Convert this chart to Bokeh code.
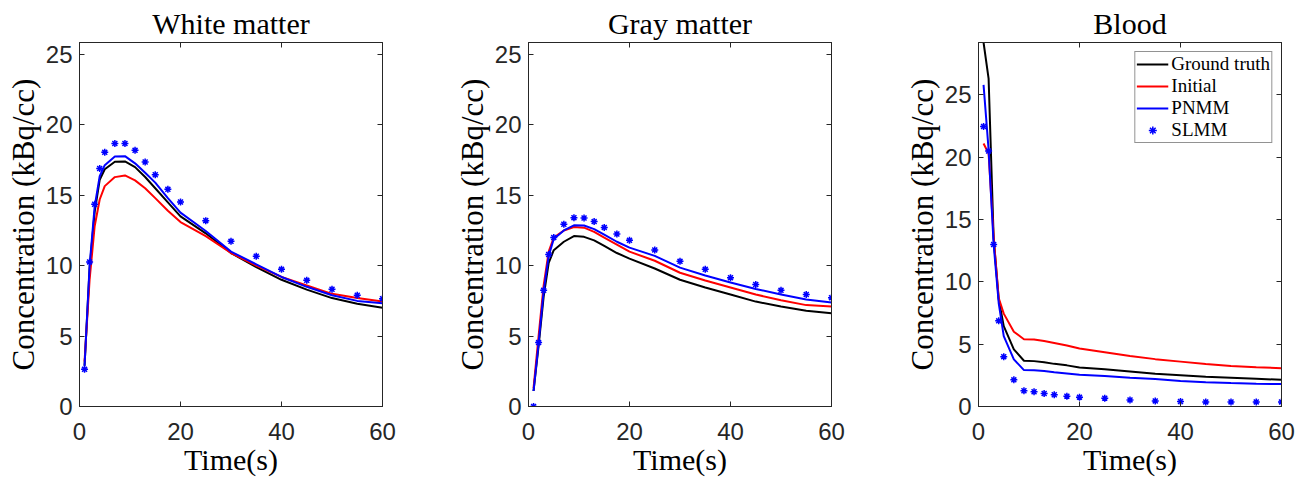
from bokeh.plotting import figure
from bokeh.layouts import row
from bokeh.models import LinearAxis, FixedTicker, Range1d, Legend, LegendItem
from bokeh.embed import file_html
from bokeh.resources import INLINE

# ---------------- data ----------------
time_s = [1, 2, 3, 4, 5, 7, 9, 11, 13, 15, 17.5, 20, 25, 30, 35, 40, 45, 50, 55, 60]

wm_truth   = [2.9, 9.8, 13.8, 16.1, 16.85, 17.38, 17.4, 17.0, 16.3, 15.5, 14.5, 13.5, 12.3, 10.9, 9.9, 9.0, 8.3, 7.7, 7.3, 7.02]
wm_initial = [3.2, 9.0, 12.8, 14.7, 15.65, 16.29, 16.41, 16.06, 15.5, 14.8, 13.9, 13.1, 12.1, 10.9, 10.0, 9.2, 8.6, 8.0, 7.7, 7.45]
wm_pnmm    = [2.86, 10.0, 14.2, 16.35, 17.14, 17.75, 17.78, 17.27, 16.6, 15.9, 14.8, 13.77, 12.46, 11.0, 10.1, 9.2, 8.5, 7.9, 7.5, 7.33]
wm_slmm    = [2.64, 10.27, 14.36, 16.9, 18.05, 18.68, 18.68, 18.19, 17.36, 16.46, 15.42, 14.52, 13.2, 11.73, 10.67, 9.74, 8.96, 8.33, 7.9, 7.66]

gm_truth   = [1.1, 4.3, 7.8, 10.2, 11.1, 11.7, 12.1, 12.05, 11.8, 11.4, 10.9, 10.5, 9.8, 9.0, 8.45, 7.95, 7.45, 7.1, 6.8, 6.62]
gm_initial = [1.3, 5.0, 8.6, 11.0, 12.0, 12.5, 12.75, 12.7, 12.4, 12.0, 11.5, 11.0, 10.35, 9.5, 8.95, 8.45, 7.95, 7.55, 7.2, 7.1]
gm_pnmm    = [1.1, 4.5, 8.2, 10.7, 11.9, 12.5, 12.87, 12.85, 12.6, 12.2, 11.7, 11.28, 10.7, 9.86, 9.3, 8.8, 8.35, 7.95, 7.6, 7.38]
gm_slmm    = [0.0, 4.54, 8.25, 10.79, 12.0, 12.94, 13.41, 13.39, 13.13, 12.72, 12.25, 11.8, 11.12, 10.31, 9.74, 9.15, 8.66, 8.25, 7.95, 7.73]

bl_truth   = [29.2, 26.3, 13.5, 8.6, 6.45, 4.58, 3.67, 3.64, 3.55, 3.42, 3.3, 3.13, 2.98, 2.8, 2.62, 2.5, 2.38, 2.3, 2.22, 2.14]
bl_initial = [21.1, 20.3, 13.6, 8.7, 7.45, 6.0, 5.4, 5.38, 5.25, 5.1, 4.9, 4.65, 4.35, 4.05, 3.8, 3.6, 3.4, 3.25, 3.15, 3.07]
bl_pnmm    = [25.8, 20.6, 13.0, 8.3, 5.65, 3.78, 2.92, 2.9, 2.85, 2.75, 2.65, 2.54, 2.45, 2.3, 2.2, 2.05, 1.95, 1.88, 1.83, 1.8]
bl_slmm    = [22.46, 20.5, 13.0, 6.87, 4.0, 2.14, 1.26, 1.18, 1.04, 0.94, 0.83, 0.75, 0.67, 0.53, 0.45, 0.4, 0.37, 0.37, 0.37, 0.37]

titles = ["White matter", "Gray matter", "Blood"]
y_max = [25.85, 25.85, 29.2]
x_ticks = [0, 20, 40, 60]
y_ticks = [0, 5, 10, 15, 20, 25]
series_names = ["Ground truth", "Initial", "PNMM", "SLMM"]

SERIF = "Liberation Serif"
SANS = "Liberation Sans"
AX = "#262626"


def make_panel(title, ymax, truth, initial, pnmm, slmm, left, right, legend=False):
    p = figure(frame_width=303, frame_height=364, output_backend="svg", toolbar_location=None,
               x_range=Range1d(0, 60), y_range=Range1d(0, ymax),
               min_border_left=left, min_border_right=right,
               min_border_top=42, min_border_bottom=70)
    p.title.text = title
    p.title.align = "center"
    p.title.text_font = SERIF
    p.title.text_font_size = "30px"
    p.title.text_font_style = "normal"
    p.title.text_color = "black"
    p.title.standoff = 5
    p.title.offset = 0
    p.grid.visible = False
    p.outline_line_color = AX
    p.outline_line_width = 1
    p.background_fill_color = "white"
    p.border_fill_color = "white"

    for ax in (p.xaxis[0], p.yaxis[0]):
        ax.major_label_text_font = SANS
        ax.major_label_text_font_size = "24px"
        ax.major_label_text_color = AX
        ax.axis_label_text_font = SERIF
        ax.axis_label_text_font_style = "normal"
        ax.axis_label_text_color = "black"
        ax.axis_line_color = AX
        ax.major_tick_line_color = AX
        ax.major_tick_in = 5
        ax.major_tick_out = 0
        ax.minor_tick_line_color = None
    p.xaxis[0].ticker = FixedTicker(ticks=x_ticks)
    p.yaxis[0].ticker = FixedTicker(ticks=y_ticks)
    p.xaxis[0].axis_label = "Time(s)"
    p.yaxis[0].axis_label = "Concentration (kBq/cc)"
    p.xaxis[0].axis_label_text_font_size = "30px"
    p.yaxis[0].axis_label_text_font_size = "31px"
    p.xaxis[0].major_label_standoff = 16
    p.xaxis[0].axis_label_standoff = 0
    p.yaxis[0].major_label_standoff = 7
    p.yaxis[0].axis_label_standoff = 2

    for side, ticks in (("right", y_ticks), ("above", x_ticks)):
        a = LinearAxis(ticker=FixedTicker(ticks=ticks), major_label_text_font_size="1px",
                       major_label_text_color=None,
                       axis_line_color=AX, major_tick_line_color=AX,
                       major_tick_in=5, major_tick_out=0, minor_tick_line_color=None,
                       major_label_standoff=0)
        p.add_layout(a, side)

    r1 = p.line(time_s, truth, line_color="black", line_width=2)
    r2 = p.line(time_s, initial, line_color="#ff0000", line_width=2)
    r3 = p.line(time_s, pnmm, line_color="#0000ff", line_width=2)
    r4 = p.scatter(time_s, slmm, marker="asterisk", size=7, line_color="#0000ff", line_width=1.5)

    if legend:
        items = [LegendItem(label=n, renderers=[r]) for n, r in zip(series_names, [r1, r2, r3, r4])]
        lg = Legend(items=items, location="top_right")
        lg.label_text_font = SERIF
        lg.label_text_font_size = "19px"
        lg.label_text_color = "black"
        lg.glyph_width = 32
        lg.glyph_height = 20
        lg.label_height = 20
        lg.label_standoff = 3
        lg.spacing = 0
        lg.padding = 1
        lg.margin = 9
        lg.border_line_color = AX
        lg.border_line_width = 1
        lg.background_fill_alpha = 1
        p.add_layout(lg)
    return p


p1 = make_panel(titles[0], y_max[0], wm_truth, wm_initial, wm_pnmm, wm_slmm, 79, 69)
p2 = make_panel(titles[1], y_max[1], gm_truth, gm_initial, gm_pnmm, gm_slmm, 76, 70)
p3 = make_panel(titles[2], y_max[2], bl_truth, bl_initial, bl_pnmm, bl_slmm, 76, 18, legend=True)

layout = row(p1, p2, p3)
open("out.html", "w").write(file_html(layout, INLINE))
